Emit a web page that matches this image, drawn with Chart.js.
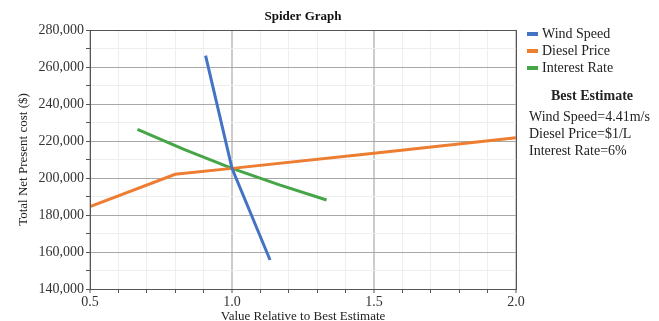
<!DOCTYPE html>
<html>
<head>
<meta charset="utf-8">
<script src="https://cdn.jsdelivr.net/npm/chart.js@4/dist/chart.umd.min.js"></script>
<style>
  html, body { margin: 0; padding: 0; background: #fff; }
  #wrap { width: 659px; height: 321px; position: relative; }
</style>
</head>
<body>
<div id="wrap"><canvas id="spiderChart"></canvas></div>
<script>
// Values
const windX = [0.907, 1.0, 1.134];
const windY = [266100, 205200, 155700];
const dieselX = [0.5, 0.8, 1.0, 1.5, 2.0];
const dieselY = [184500, 202000, 205200, 213400, 221800];
const interestX = [0.667, 0.833, 1.0, 1.167, 1.333];
const interestY = [226300, 215300, 205200, 196300, 188100];

const seriesNames = ['Wind Speed', 'Diesel Price', 'Interest Rate'];
const seriesColors = ['#4472c4', '#ed7d31', '#46a546'];
const estimateLines = ['Wind Speed=4.41m/s', 'Diesel Price=$1/L', 'Interest Rate=6%'];

const FONT = "'Liberation Serif', 'DejaVu Serif', serif";

function toPoints(xs, ys) {
    return xs.map((x, i) => ({ x: x, y: ys[i] }));
}

// Title, frame, legend and best-estimate block
const decorations = {
    id: 'decorations',
    afterDraw(chart) {
        const ctx = chart.ctx;
        const a = chart.chartArea;
        ctx.save();

        // frame around plot
        ctx.strokeStyle = '#555';
        ctx.lineWidth = 1;
        ctx.strokeRect(Math.round(a.left) + 0.5, Math.round(a.top) + 0.5,
            Math.round(a.right - a.left), Math.round(a.bottom - a.top));

        // title
        ctx.fillStyle = '#111';
        ctx.font = 'bold 13px ' + FONT;
        ctx.textAlign = 'center';
        ctx.textBaseline = 'middle';
        ctx.fillText('Spider Graph', (a.left + a.right) / 2, 17);

        // legend
        ctx.font = '14px ' + FONT;
        ctx.textAlign = 'left';
        seriesNames.forEach((name, i) => {
            const y = 34 + i * 17;
            ctx.fillStyle = seriesColors[i];
            ctx.fillRect(527, y - 2, 11, 4);
            ctx.fillStyle = '#222';
            ctx.fillText(name, 542, y);
        });

        // best estimate
        ctx.font = 'bold 14px ' + FONT;
        ctx.textAlign = 'center';
        ctx.fillText('Best Estimate', 592, 96);
        ctx.font = '14px ' + FONT;
        ctx.textAlign = 'left';
        estimateLines.forEach((t, i) => {
            ctx.fillText(t, 529, 117 + i * 17);
        });
        ctx.restore();
    }
};

new Chart(document.getElementById('spiderChart'), {
    type: 'line',
    data: {
        datasets: [
            { label: seriesNames[0], data: toPoints(windX, windY) },
            { label: seriesNames[1], data: toPoints(dieselX, dieselY) },
            { label: seriesNames[2], data: toPoints(interestX, interestY) }
        ].map((d, i) => Object.assign(d, {
            borderColor: seriesColors[i],
            backgroundColor: seriesColors[i],
            borderWidth: 3,
            pointRadius: 0,
            tension: 0,
            fill: false
        }))
    },
    options: {
        responsive: true,
        maintainAspectRatio: false,
        animation: false,
        layout: { padding: { top: 30, right: 143, left: 0, bottom: 0 } },
        plugins: {
            legend: { display: false },
            tooltip: { enabled: false },
            title: { display: false }
        },
        scales: {
            x: {
                type: 'linear',
                min: 0.5,
                max: 2.0,
                ticks: {
                    stepSize: 0.1,
                    autoSkip: false,
                    maxRotation: 0,
                    color: '#333',
                    font: { family: FONT, size: 14 },
                    padding: 1,
                    callback: v => (Math.round(v * 10) % 5 === 0 ? v.toFixed(1) : '')
                },
                grid: {
                    color: c => (Math.round(c.tick.value * 10) % 5 === 0 ? '#cccccc' : '#eeeeee'),
                    lineWidth: c => (Math.round(c.tick.value * 10) % 5 === 0 ? 2 : 1),
                    tickColor: '#555',
                    tickLength: 4,
                    tickWidth: 1
                },
                border: { color: '#555', width: 1 },
                title: {
                    display: true,
                    text: 'Value Relative to Best Estimate',
                    color: '#222',
                    font: { family: FONT, size: 13 },
                    padding: { top: 0, bottom: -3 }
                },
                afterFit: s => { s.height = 32; }
            },
            y: {
                min: 140000,
                max: 280000,
                ticks: {
                    stepSize: 10000,
                    autoSkip: false,
                    color: '#333',
                    font: { family: FONT, size: 14 },
                    padding: 2,
                    callback: v => (v % 20000 === 0 ? v.toLocaleString('en-US') : '')
                },
                grid: {
                    color: c => (c.tick.value % 20000 === 0 ? '#a8a8a8' : '#eeeeee'),
                    lineWidth: 1,
                    tickColor: '#555',
                    tickLength: 4,
                    tickWidth: 1
                },
                border: { color: '#555', width: 1 },
                title: {
                    display: true,
                    text: 'Total Net Present cost ($)',
                    color: '#222',
                    font: { family: FONT, size: 13 },
                    padding: { top: 16, bottom: 0 }
                },
                afterFit: s => { s.width = 90; }
            }
        }
    },
    plugins: [decorations]
});
</script>
</body>
</html>
